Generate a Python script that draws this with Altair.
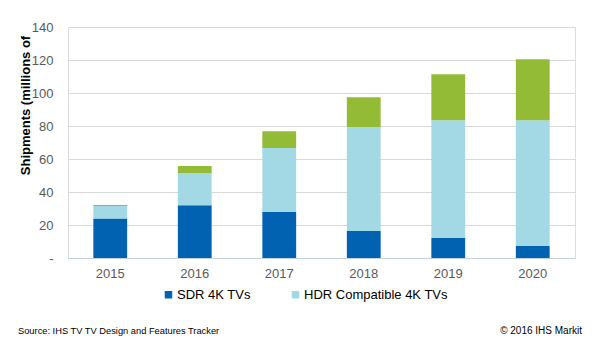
import altair as alt
import pandas as pd

years = ["2015", "2016", "2017", "2018", "2019", "2020"]
series = ["SDR 4K TVs", "HDR Compatible 4K TVs", "HDR Premium 4K TVs"]
sdr = [24, 32, 28, 16.4, 12.1, 7.3]
hdr = [7.5, 19.5, 38.7, 63.0, 71.4, 76.2]
premium = [0.6, 4.3, 10.1, 18.0, 27.8, 36.9]
colors = ["#0062B0", "#A3D9E4", "#93BB35"]
legend_values = ["SDR 4K TVs", "HDR Compatible 4K TVs"]
source_text = "Source: IHS TV TV Design and Features Tracker"
copyright_text = "\u00a9 2016 IHS Markit"

rows = []
for i, y in enumerate(years):
    for k, (name, vals) in enumerate(zip(series, [sdr, hdr, premium])):
        rows.append({"year": y, "series": name, "value": vals[i], "order": k})
df = pd.DataFrame(rows)

FONT = "Liberation Sans"

bars = alt.Chart(df).mark_bar().encode(
    x=alt.X("year:N", sort=years,
            scale=alt.Scale(paddingInner=0.6, paddingOuter=0.3),
            axis=alt.Axis(title=None, labelAngle=0, ticks=False, labelPadding=9,
                          domainColor="#c5d0da", labelFontSize=13,
                          labelColor="#595959", labelFont=FONT, grid=False)),
    y=alt.Y("value:Q", stack="zero",
            scale=alt.Scale(domain=[0, 140], nice=False),
            axis=alt.Axis(title="Shipments (millions of", values=[0, 20, 40, 60, 80, 100, 120, 140],
                          labelExpr="datum.value == 0 ? '-' : datum.label",
                          domain=False, ticks=False, labelPadding=15,
                          labelFontSize=13, labelColor="#595959", labelFont=FONT,
                          gridColor="#d9d9d9", titleFont=FONT, titleFontSize=13,
                          titleFontWeight="bold", titleColor="#000000",
                          titleAngle=-90, titleX=-36, titleY=78, titleAlign="center",
                          titleBaseline="bottom")),
    color=alt.Color("series:N", sort=series,
                    scale=alt.Scale(domain=series, range=colors),
                    legend=alt.Legend(title=None, values=legend_values, orient="none",
                                      direction="horizontal", legendX=94, legendY=261,
                                      symbolType="square", symbolSize=56,
                                      symbolStrokeWidth=0, labelFontSize=13,
                                      labelFont=FONT, labelColor="#000000",
                                      columnPadding=38, labelOffset=2, padding=0)),
    order=alt.Order("order:Q", sort="ascending"),
)

foot_df = pd.DataFrame({"left": [source_text], "right": [copyright_text]})
foot_left = alt.Chart(foot_df).mark_text(
    align="left", baseline="alphabetic", fontSize=9.3, font=FONT, color="#000000"
).encode(text="left:N", x=alt.value(-50), y=alt.value(307))
foot_right = alt.Chart(foot_df).mark_text(
    align="right", baseline="alphabetic", fontSize=10, font=FONT, color="#000000"
).encode(text="right:N", x=alt.value(514), y=alt.value(307))

chart = alt.layer(bars, foot_left, foot_right).properties(
    width=507, height=231,
    autosize=alt.AutoSizeParams(type="none"),
    padding={"left": 68, "top": 27, "right": 25, "bottom": 92},
).configure_view(stroke=None).configure(background="#ffffff")

chart.save("out.html", embed_options={"renderer": "svg", "actions": False})
